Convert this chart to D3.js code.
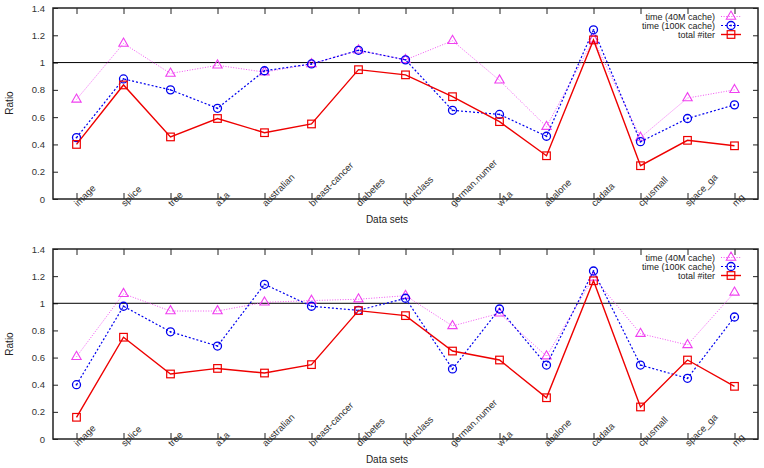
<!DOCTYPE html>
<html>
<head>
<meta charset="utf-8">
<script src="https://cdn.jsdelivr.net/npm/d3@7"></script>
<style>
  body { margin: 0; background: white; }
  svg { font-family: "Liberation Sans", Arial, sans-serif; }
</style>
</head>
<body>
<svg id="chart" width="764" height="468"></svg>
<script>
// data sets along the x axis
const categories = ["image", "splice", "tree", "a1a", "australian", "breast-cancer", "diabetes",
    "fourclass", "german.numer", "w1a", "abalone", "cadata", "cpusmall", "space_ga", "mg"];
const yTicks = [0, 0.2, 0.4, 0.6, 0.8, 1, 1.2, 1.4];
const seriesNames = ["time (40M cache)", "time (100K cache)", "total #iter"];

// upper panel
const topTime40M = [0.73, 1.14, 0.92, 0.98, 0.93, 0.99, 1.09, 1.02, 1.16, 0.87, 0.53, 1.17, 0.45, 0.74, 0.80];
const topTime100K = [0.45, 0.88, 0.80, 0.665, 0.94, 0.99, 1.09, 1.02, 0.65, 0.62, 0.46, 1.24, 0.42, 0.59, 0.69];
const topIter = [0.40, 0.836, 0.455, 0.59, 0.486, 0.55, 0.948, 0.91, 0.75, 0.567, 0.317, 1.166, 0.244, 0.43, 0.39];

// lower panel
const botTime40M = [0.606, 1.07, 0.943, 0.943, 1.007, 1.02, 1.03, 1.056, 0.833, 0.926, 0.61, 1.19, 0.776, 0.693, 1.08];
const botTime100K = [0.40, 0.978, 0.79, 0.685, 1.14, 0.978, 0.948, 1.037, 0.516, 0.958, 0.545, 1.238, 0.545, 0.447, 0.899];
const botIter = [0.16, 0.75, 0.479, 0.52, 0.486, 0.548, 0.946, 0.909, 0.648, 0.582, 0.304, 1.166, 0.236, 0.582, 0.388];

const svg = d3.select("#chart");

// line styles per series
const styles = [
    {color: "#f040f0", width: 0.9, dash: "1,1.6", marker: "triangle"},
    {color: "#0000ee", width: 1.2, dash: "2,2", marker: "circle"},
    {color: "#ee0000", width: 1.4, dash: null, marker: "square"}
];

function drawMarker(g, kind, color) {
    if (kind === "triangle") {
        g.append("path").attr("d", d3.symbol(d3.symbolTriangle, 38)())
            .attr("fill", "none").attr("stroke", color).attr("stroke-width", 1.1);
    } else if (kind === "circle") {
        g.append("circle").attr("r", 4).attr("fill", "none")
            .attr("stroke", color).attr("stroke-width", 1.3);
        g.append("circle").attr("r", 0.9).attr("fill", color);
    } else {
        g.append("rect").attr("x", -3.8).attr("y", -3.8).attr("width", 7.6).attr("height", 7.6)
            .attr("fill", "none").attr("stroke", color).attr("stroke-width", 1.2);
    }
}

// draws one panel of the figure
function drawPanel(top, bottom, series, ratioY, labelY) {
    const left = 53, right = 758;
    const x = d3.scalePoint().domain(categories).range([left, right]).padding(0.5);
    const y = d3.scaleLinear().domain([0, 1.4]).range([bottom, top]);
    const g = svg.append("g");

    // axes with inward ticks
    const fmt = d => String(+d.toFixed(1));
    const ya = g.append("g").attr("transform", `translate(${left},0)`)
        .call(d3.axisLeft(y).tickValues(yTicks).tickSize(-5).tickPadding(8).tickFormat(fmt));
    g.append("g").attr("transform", `translate(${right},0)`)
        .call(d3.axisRight(y).tickValues(yTicks).tickSize(-5).tickFormat(""));
    const xa = g.append("g").attr("transform", `translate(0,${bottom})`)
        .call(d3.axisBottom(x).tickSize(-6));
    g.append("g").attr("transform", `translate(0,${top})`)
        .call(d3.axisTop(x).tickSize(-6).tickFormat(""));
    g.selectAll(".domain").remove();
    g.selectAll(".tick line").attr("stroke", "#222").attr("stroke-width", 1);
    ya.selectAll("text").style("font-size", "9.5px").attr("fill", "#333");
    xa.selectAll("text")
        .attr("x", 0).attr("y", 0).attr("dy", 0)
        .attr("transform", "translate(1,8) rotate(-45)")
        .style("text-anchor", "start")
        .style("font-size", "9.5px").attr("fill", "#333");

    // frame
    g.append("rect").attr("x", left).attr("y", top)
        .attr("width", right - left).attr("height", bottom - top)
        .attr("fill", "none").attr("stroke", "#222").attr("stroke-width", 1.5);

    // reference line at 1
    g.append("line").attr("x1", left).attr("x2", right)
        .attr("y1", y(1)).attr("y2", y(1))
        .attr("stroke", "black").attr("stroke-width", 1);

    // series lines and markers
    const line = d3.line().x((d, i) => x(categories[i])).y(d => y(d));
    series.forEach((vals, s) => {
        const st = styles[s];
        g.append("path").datum(vals).attr("d", line)
            .attr("fill", "none").attr("stroke", st.color)
            .attr("stroke-width", st.width)
            .attr("stroke-dasharray", st.dash);
        vals.forEach((v, i) => {
            const m = g.append("g").attr("transform", `translate(${x(categories[i])},${y(v)})`);
            drawMarker(m, st.marker, st.color);
        });
    });

    // legend
    seriesNames.forEach((name, s) => {
        const ly = top + 8.5 + s * 9;
        const st = styles[s];
        g.append("text").attr("x", 715).attr("y", ly).attr("dy", "0.35em")
            .attr("text-anchor", "end").style("font-size", "9px").attr("fill", "#222")
            .text(name);
        g.append("line").attr("x1", 721).attr("x2", 741).attr("y1", ly).attr("y2", ly)
            .attr("stroke", st.color).attr("stroke-width", st.width)
            .attr("stroke-dasharray", st.dash);
        const m = g.append("g").attr("transform", `translate(731,${ly})`);
        drawMarker(m, st.marker, st.color);
    });

    // axis titles
    g.append("text").attr("transform", `translate(13,${ratioY}) rotate(-90)`)
        .attr("text-anchor", "middle").style("font-size", "10px").attr("fill", "#222")
        .text("Ratio");
    g.append("text").attr("x", 387).attr("y", labelY)
        .attr("text-anchor", "middle").style("font-size", "10px").attr("fill", "#222")
        .text("Data sets");
}

drawPanel(8, 199, [topTime40M, topTime100K, topIter], 103, 223);
drawPanel(249, 439, [botTime40M, botTime100K, botIter], 344, 463);
</script>
</body>
</html>
